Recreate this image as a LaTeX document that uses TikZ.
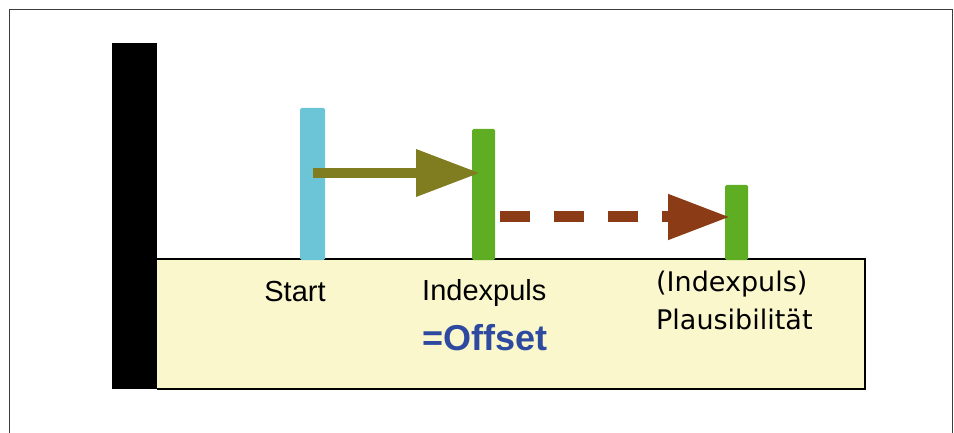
\documentclass[tikz,border=0pt]{standalone}
\usepackage{fontspec}
\setmainfont{Liberation Sans}
\newfontfamily\dejavu{DejaVu Sans}
\usetikzlibrary{arrows.meta}
\definecolor{boxyellow}{RGB}{250,247,205}
\definecolor{barcyan}{RGB}{108,197,214}
\definecolor{bargreen}{RGB}{95,173,35}
\definecolor{arrolive}{RGB}{128,124,32}
\definecolor{arrbrown}{RGB}{139,60,22}
\definecolor{txtblue}{RGB}{46,74,160}
\definecolor{framegray}{RGB}{60,60,60}
\begin{document}
\begin{tikzpicture}[x=1pt,y=-1pt,
  barbox/.style={rectangle, inner sep=0pt, outer sep=0pt, rounded corners=1.5pt},
  lbl/.style={inner sep=0pt, font=\fontsize{29}{34}\selectfont},
  rlbl/.style={inner sep=0pt, anchor=west, font=\dejavu\fontsize{27}{35}\selectfont}]
\useasboundingbox (0,0) rectangle (954,433);
\draw[framegray, line width=1pt] (9,433) -- (9,10) -- (952,10) -- (952,433);
% base box
\fill[boxyellow] (157,259) rectangle (865,389);
\draw[line width=1.2pt] (157,259) -- (865,259) -- (865,389) -- (157,389);
% wall
\node[rectangle, fill=black, inner sep=0pt, minimum width=45pt, minimum height=346pt] (wall) at (134.5,216) {};
% bars
\node[barbox, fill=barcyan, minimum width=25pt, minimum height=152pt] (start) at (312.5,184) {};
\node[barbox, fill=bargreen, minimum width=23pt, minimum height=131pt] (idx) at (483.5,194.5) {};
\node[barbox, fill=bargreen, minimum width=23pt, minimum height=75pt] (plaus) at (736.5,222.5) {};
% arrows
\draw[arrolive, line width=10pt, -{Triangle[length=64pt,width=45pt]}]
  ([yshift=11pt]start.center) -- ([xshift=-3.5pt,yshift=21.5pt]idx.center);
\draw[arrbrown, line width=11pt, dash pattern=on 30pt off 24pt, -{Triangle[length=62pt,width=43pt]}]
  ([xshift=5pt,yshift=-22.5pt]idx.east) -- ([xshift=-6.5pt,yshift=5.5pt]plaus.center);
% labels
\node[lbl] (tstart) at (295,292) {Start};
\node[lbl, anchor=west] (tidx) at (422,293) {Indexpuls};
\node[inner sep=0pt, anchor=west, text=txtblue, font=\bfseries\fontsize{36}{40}\selectfont] (toff) at (422,338) {=Offset};
\node[rlbl] (tp1) at (656,284) {(Indexpuls)};
\node[rlbl] (tp2) at (656,319) {Plausibilität};
\end{tikzpicture}
\end{document}
